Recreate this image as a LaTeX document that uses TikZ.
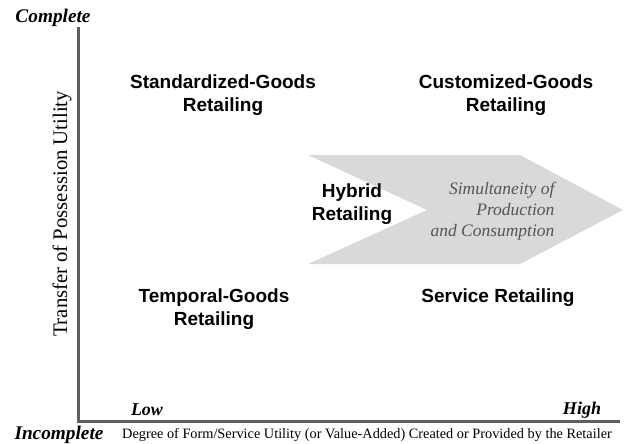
\documentclass[tikz,border=0pt]{standalone}
\usepackage{fontspec}
\setmainfont{Liberation Serif}
\newfontfamily\arialfont{Liberation Sans}
\usepackage{xcolor}

\definecolor{axisgray}{HTML}{5E5E5E}
\definecolor{arrowgray}{HTML}{D9D9D9}
\definecolor{notegray}{HTML}{555555}

\tikzset{
  cell/.style={align=center, font=\arialfont\bfseries\fontsize{19}{23}\selectfont},
  endlabel/.style={font=\bfseries\itshape\fontsize{18}{20}\selectfont},
  axislabel/.style={font=\fontsize{14.3}{16}\selectfont}
}

\begin{document}
\begin{tikzpicture}[x=1pt, y=-1pt]
\useasboundingbox (0,0) rectangle (635,444);

% shaded arrow behind the hybrid cell
\fill [arrowgray] (308,155) -- (520,155) -- (623,210) -- (520,264) -- (308,264) -- (427,210) -- cycle;

\coordinate (T) at (78,27);
\coordinate (O) at (78,421);
\coordinate (E) at (620,421);
\draw [axisgray, line width=3pt] (T) -- (O) -- (E);

\node (complete) at (53,18) [endlabel, font=\bfseries\itshape\fontsize{19.3}{21}\selectfont] {Complete};
\node (incomplete) at (59,435) [endlabel, font=\bfseries\itshape\fontsize{19.3}{21}\selectfont] {Incomplete};
\node (low) at (147,410) [endlabel] {Low};
\node (high) at (582,410) [endlabel] {High};

\node (xlab) at (367,435) [axislabel] {Degree of Form/Service Utility (or Value-Added) Created or Provided by the Retailer};
\node (ylab) at (62,214) [rotate=90, font=\fontsize{20.7}{22}\selectfont] {Transfer of Possession Utility};

\node (SG) at (223,95) [cell] {Standardized-Goods\\Retailing};
\node (CG) at (506,95) [cell] {Customized-Goods\\Retailing};
\node (TG) at (214,309) [cell] {Temporal-Goods\\Retailing};
\node (SR) at (498,298) [cell] {Service Retailing};
\node (HR) at (352,204) [cell] {Hybrid\\Retailing};

\node (SPC) at (558,211) [anchor=east, align=right, text=notegray, font=\itshape\fontsize{17.5}{21}\selectfont] {Simultaneity of\\Production\\and Consumption\hspace{5pt}};
\end{tikzpicture}
\end{document}
